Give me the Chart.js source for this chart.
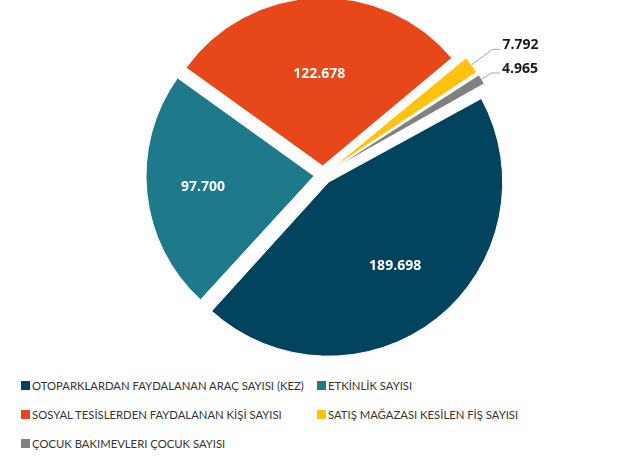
<!DOCTYPE html>
<html lang="tr">
<head>
<meta charset="utf-8">
<script src="https://cdn.jsdelivr.net/npm/chart.js@4.4.1/dist/chart.umd.min.js"></script>
<style>
  html, body { margin: 0; padding: 0; background: #fff; }
  #wrap { position: relative; width: 619px; height: 457px; overflow: hidden; }
  #pieBox { position: absolute; left: 0; top: 0; width: 619px; height: 360px; }
  #legend {
    position: absolute; left: 21px; top: 371px;
    display: grid; grid-template-columns: 296px auto;
    font: 11.3px Lato, sans-serif; color: #333;
  }
  #legend .item { display: flex; align-items: center; height: 29px; white-space: nowrap; }
  #legend .box { width: 9px; height: 9px; margin-right: 2px; flex: none; }
</style>
</head>
<body>
<div id="wrap">
  <div id="pieBox"><canvas id="pie"></canvas></div>
  <div id="legend"></div>
</div>
<script>
const categories = [
  'OTOPARKLARDAN FAYDALANAN ARAÇ SAYISI (KEZ)',
  'ETKİNLİK SAYISI',
  'SOSYAL TESİSLERDEN FAYDALANAN KİŞİ SAYISI',
  'SATIŞ MAĞAZASI KESİLEN FİŞ SAYISI',
  'ÇOCUK BAKIMEVLERI ÇOCUK SAYISI'
];
const values = [189698, 97700, 122678, 7792, 4965];
const colors = ['#02445E', '#1E7A8A', '#E84719', '#FFC20E', '#808080'];

// where the value sits inside a slice (share of radius), and leader length for small ones
const labelRadius = [0.64, 0.665, 0.55, 0, 0];
const leaderLen = [0, 0, 0, 26, 12];

function fmt(v) {
  return String(v).replace(/\B(?=(\d{3})+(?!\d))/g, '.');
}

const sliceLabels = {
  id: 'sliceLabels',
  afterDatasetsDraw(chart) {
    const ctx = chart.ctx;
    const meta = chart.getDatasetMeta(0);
    const total = values.reduce((a, b) => a + b, 0);
    ctx.save();
    ctx.font = 'bold 14px "Open Sans", sans-serif';
    meta.data.forEach((arc, i) => {
      const p = arc.getProps(['x', 'y', 'startAngle', 'endAngle', 'outerRadius', 'circumference'], true);
      const mid = (p.startAngle + p.endAngle) / 2;
      // same shift the arc element applies when it draws an offset slice
      const shift = (arc.options.offset || 0) / 4;
      const grow = shift * (1 - Math.sin(Math.min(Math.PI, p.circumference)));
      const cx = p.x + Math.cos(mid) * shift;
      const cy = p.y + Math.sin(mid) * shift;
      const text = fmt(values[i]);

      if (values[i] / total > 0.05) {
        const r = p.outerRadius * labelRadius[i];
        ctx.fillStyle = '#fff';
        ctx.textAlign = 'center';
        ctx.textBaseline = 'middle';
        ctx.fillText(text, cx + Math.cos(mid) * r, cy + Math.sin(mid) * r);
        return;
      }

      // small slice: leader line out to the right
      const rOut = p.outerRadius + grow;
      const sx = cx + Math.cos(mid) * rOut;
      const sy = cy + Math.sin(mid) * rOut;
      const ex = sx + Math.cos(mid) * leaderLen[i];
      const ey = sy + Math.sin(mid) * leaderLen[i];
      ctx.strokeStyle = '#A6A6A6';
      ctx.lineWidth = 1;
      ctx.beginPath();
      ctx.moveTo(sx, sy);
      ctx.lineTo(ex, ey);
      ctx.lineTo(ex + 8, ey);
      ctx.stroke();
      ctx.fillStyle = '#1A1A1A';
      ctx.textAlign = 'left';
      ctx.textBaseline = 'alphabetic';
      ctx.fillText(text, ex + 10, ey);
    });
    ctx.restore();
  }
};

const chart = new Chart(document.getElementById('pie'), {
  type: 'pie',
  data: {
    labels: categories,
    datasets: [{
      data: values,
      backgroundColor: colors,
      borderColor: '#fff',
      borderWidth: 1,
      offset: 36,
      hoverOffset: 0
    }]
  },
  options: {
    responsive: true,
    maintainAspectRatio: false,
    animation: false,
    rotation: 61,
    radius: 168,
    layout: { padding: { left: 27, right: 0, top: 0, bottom: 10 } },
    plugins: {
      legend: { display: false },
      tooltip: { enabled: false }
    }
  },
  plugins: [sliceLabels]
});

// legend in a two-column grid below the pie
const legendEl = document.getElementById('legend');
chart.options.plugins.legend.labels.generateLabels(chart).forEach(item => {
  const row = document.createElement('div');
  row.className = 'item';
  const box = document.createElement('span');
  box.className = 'box';
  box.style.background = item.fillStyle;
  const label = document.createElement('span');
  label.textContent = item.text;
  row.appendChild(box);
  row.appendChild(label);
  legendEl.appendChild(row);
});
</script>
</body>
</html>
